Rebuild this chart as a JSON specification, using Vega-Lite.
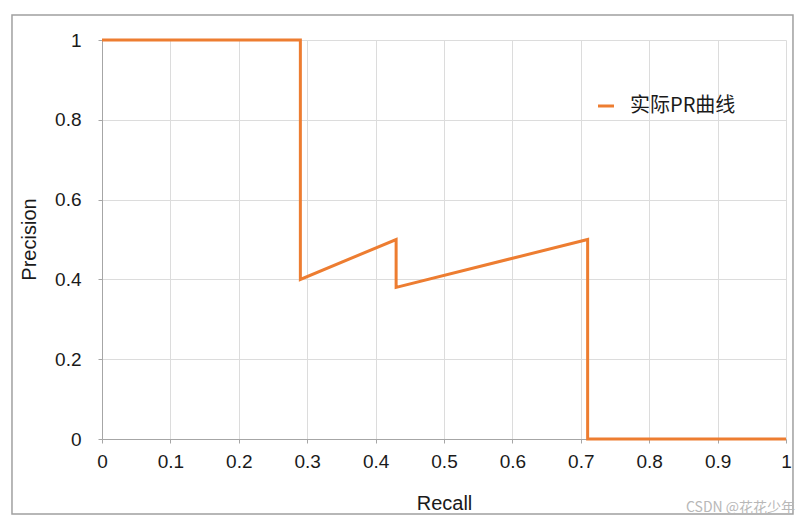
{
  "$schema": "https://vega.github.io/schema/vega-lite/v6.json",
  "autosize": {"type": "none"},
  "padding": {"left": 102, "top": 40, "right": 23, "bottom": 84},
  "width": 684,
  "height": 399,
  "background": "white",
  "config": {
    "font": "Liberation Sans",
    "view": {"stroke": null},
    "axis": {
      "grid": true,
      "gridColor": "#dcdcdc",
      "gridWidth": 1,
      "domainColor": "#a6a6a6",
      "tickColor": "#a6a6a6",
      "tickSize": 4,
      "format": "~g",
      "labelFont": "Liberation Sans",
      "labelFontSize": 19,
      "labelColor": "#1a1a1a",
      "titleFont": "Liberation Sans",
      "titleFontSize": 20,
      "titleFontWeight": "normal",
      "titleColor": "#1a1a1a"
    }
  },
  "data": {
    "values": [
      {"recall": 0, "precision": 1, "order": 1},
      {"recall": 0.29, "precision": 1, "order": 2},
      {"recall": 0.29, "precision": 0.4, "order": 3},
      {"recall": 0.43, "precision": 0.5, "order": 4},
      {"recall": 0.43, "precision": 0.38, "order": 5},
      {"recall": 0.71, "precision": 0.5, "order": 6},
      {"recall": 0.71, "precision": 0, "order": 7},
      {"recall": 1, "precision": 0, "order": 8}
    ]
  },
  "layer": [
    {
      "mark": {"type": "line", "strokeWidth": 3, "interpolate": "linear"},
      "encoding": {
        "x": {
          "field": "recall",
          "type": "quantitative",
          "title": "Recall",
          "scale": {"domain": [0, 1], "nice": false},
          "axis": {
            "values": [0, 0.1, 0.2, 0.3, 0.4, 0.5, 0.6, 0.7, 0.8, 0.9, 1],
            "grid": true,
            "labelPadding": 9,
            "labelFlush": false,
            "titleX": 342,
            "titleY": 70,
            "titleBaseline": "alphabetic"
          }
        },
        "y": {
          "field": "precision",
          "type": "quantitative",
          "title": "Precision",
          "scale": {"domain": [0, 1], "nice": false},
          "axis": {
            "values": [0, 0.2, 0.4, 0.6, 0.8, 1],
            "grid": true,
            "labelPadding": 17,
            "titleX": -67,
            "titleY": 199,
            "titleBaseline": "alphabetic"
          }
        },
        "order": {"field": "order"},
        "color": {
          "datum": "实际PR曲线",
          "type": "nominal",
          "scale": {"range": ["#ED7D31"]},
          "legend": {
            "title": null,
            "orient": "none",
            "legendX": 494,
            "legendY": 56,
            "padding": 0,
            "symbolType": "stroke",
            "symbolSize": 256,
            "symbolStrokeWidth": 3,
            "labelFont": "Noto Sans CJK SC",
            "labelFontSize": 20,
            "labelColor": "#1a1a1a",
            "labelOffset": 14
          }
        }
      }
    },
    {
      "data": {"values": [{}]},
      "mark": {"type": "rect", "fill": null, "stroke": "#a0a0a0", "strokeWidth": 1.5},
      "encoding": {
        "x": {"datum": -0.1316, "type": "quantitative"},
        "x2": {"datum": 1.0102},
        "y": {"datum": 1.0627, "type": "quantitative"},
        "y2": {"datum": -0.188}
      }
    },
    {
      "data": {"values": [{"note": "CSDN @花花少年"}]},
      "mark": {"type": "text", "align": "right", "baseline": "alphabetic", "fontSize": 14, "color": "#b8b8b8", "font": "Noto Sans CJK SC"},
      "encoding": {
        "x": {"datum": 1.0132, "type": "quantitative"},
        "y": {"datum": -0.183, "type": "quantitative"},
        "text": {"field": "note"}
      }
    }
  ]
}
